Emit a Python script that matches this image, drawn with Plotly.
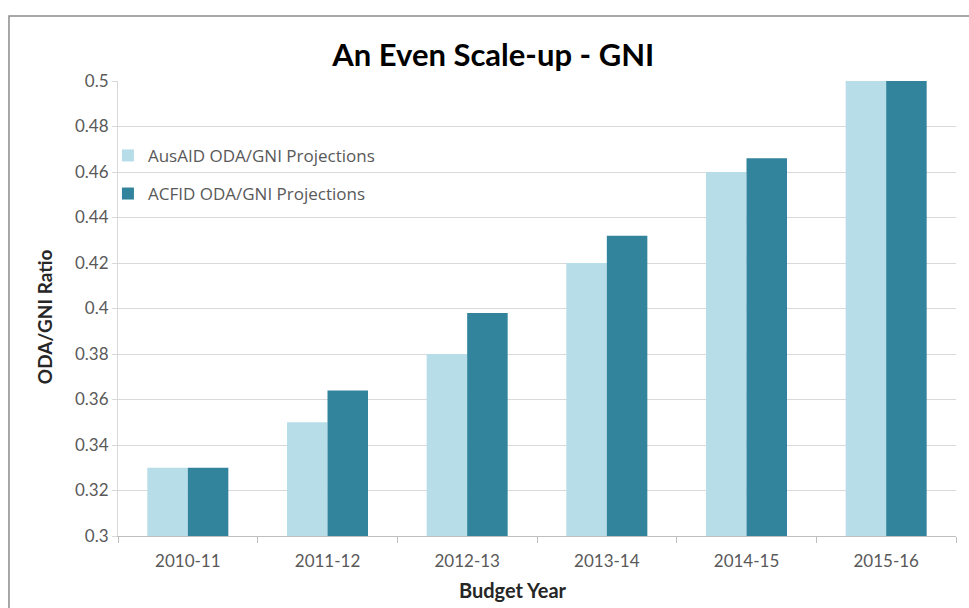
import plotly.graph_objects as go

years = ["2010-11", "2011-12", "2012-13", "2013-14", "2014-15", "2015-16"]
ausaid = [0.33, 0.35, 0.38, 0.42, 0.46, 0.50]
acfid = [0.33, 0.364, 0.398, 0.432, 0.466, 0.50]

fig = go.Figure()
fig.add_trace(go.Bar(x=years, y=ausaid, name="AusAID ODA/GNI Projections",
                     legendgroup="a", marker=dict(color="#b7dde8", line=dict(width=0))))
fig.add_trace(go.Bar(x=years, y=acfid, name="ACFID ODA/GNI Projections",
                     legendgroup="b", marker=dict(color="#31849b", line=dict(width=0))))

main_font = "Lato, Liberation Sans, sans-serif"
fig.update_layout(
    width=969, height=608,
    margin=dict(l=118, r=13, t=81, b=72),
    paper_bgcolor="white", plot_bgcolor="white",
    barmode="group", bargap=0.42, bargroupgap=0,
    font=dict(family=main_font, size=17, color="#595959"),
    title=dict(text="<b>An Even Scale-up - GNI</b>", x=0.509, xanchor="center",
               y=0.909, yanchor="middle",
               font=dict(family=main_font, size=31, color="black")),
    legend=dict(x=-0.012, y=0.875, xanchor="left", yanchor="top",
                bgcolor="rgba(0,0,0,0)", traceorder="grouped", tracegroupgap=13,
                font=dict(family="Open Sans, sans-serif", size=17, color="#595959")),
    showlegend=True,
)
fig.update_xaxes(
    type="category",
    showline=True, linecolor="#bfbfbf", linewidth=1,
    ticks="outside", tickson="boundaries", ticklen=6, tickcolor="#bfbfbf",
    ticklabelstandoff=10,
    tickfont=dict(size=17, color="#595959"),
)
fig.update_yaxes(
    range=[0.3, 0.5], dtick=0.02, tickformat="~g",
    showgrid=True, gridcolor="#d9d9d9", gridwidth=1,
    showline=True, linecolor="#d9d9d9", linewidth=1,
    ticks="outside", ticklen=5, tickcolor="#d9d9d9",
    tickfont=dict(size=17, color="#595959"),
    zeroline=False,
)
# axis titles, placed like the original (centred on the chart area)
fig.add_annotation(text="<b>Budget Year</b>", xref="paper", yref="paper",
                   x=0.471, y=-0.1187, xanchor="center", yanchor="middle",
                   showarrow=False, font=dict(size=20, color="#262626"))
fig.add_annotation(text="<b>ODA/GNI Ratio</b>", xref="paper", yref="paper",
                   x=-0.0883, y=0.481, xanchor="center", yanchor="middle",
                   textangle=-90, showarrow=False, font=dict(size=19, color="#262626"))
# chart frame
fig.add_shape(type="rect", xref="paper", yref="paper",
              x0=-0.1301, x1=1.1, y0=-0.25, y1=1.143,
              line=dict(color="#8c8c8c", width=1.5), layer="below")

fig.write_html("out.html", config={"displayModeBar": False},
               post_script="document.body.style.margin='0px';")
